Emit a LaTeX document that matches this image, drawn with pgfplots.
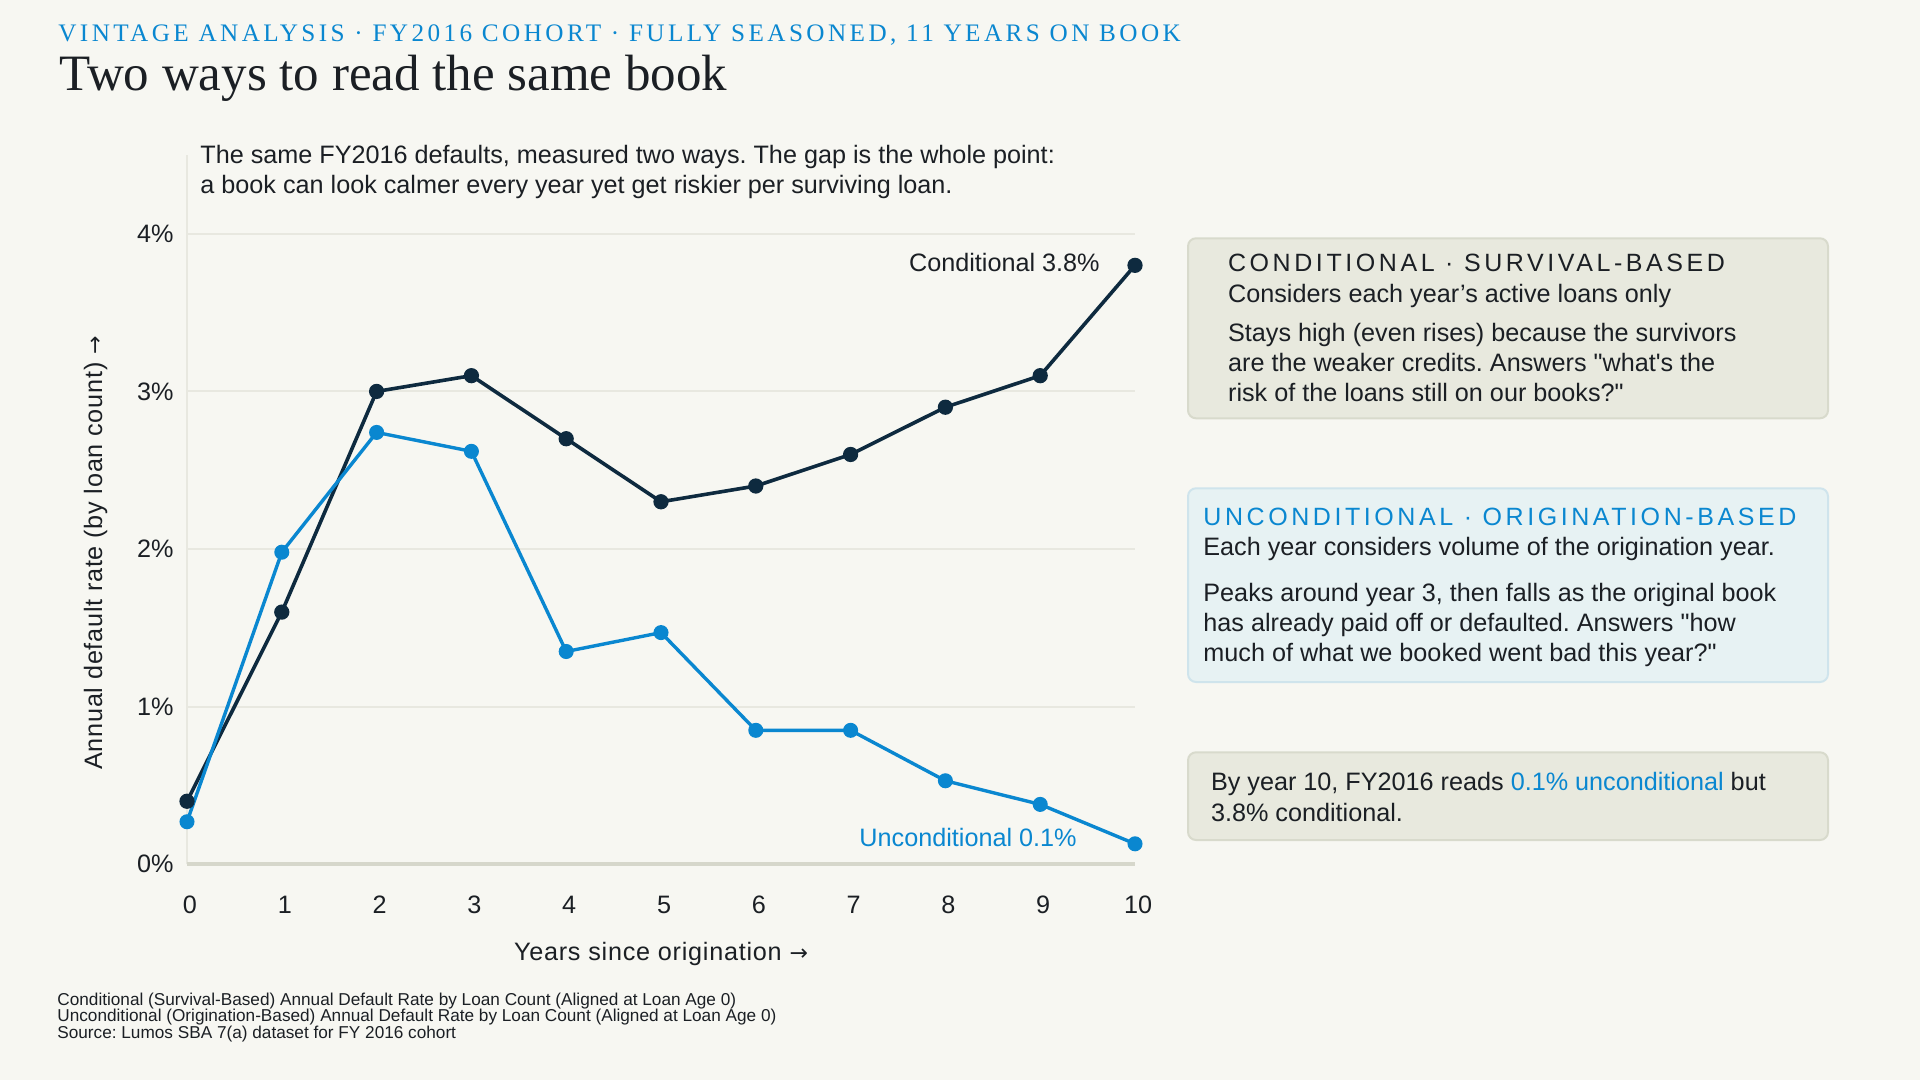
\documentclass[border=0pt]{standalone}
\usepackage{pgfplots}
\pgfplotsset{compat=1.18}
\usepackage{fontspec}
\setmainfont{Liberation Sans}[Ligatures=TeXOff]
\newfontfamily\titleserif{Liberation Serif}
\newfontfamily\kickerserif[LetterSpace=13.6]{Liberation Serif}
\newfontfamily\capsans[LetterSpace=14.3]{Liberation Sans}
\newfontfamily\widesans[LetterSpace=3,Ligatures=TeXOff]{Liberation Sans}
\newfontfamily\arrowfont{DejaVu Sans}
\frenchspacing

\definecolor{bg}{HTML}{F7F7F2}
\definecolor{ink}{HTML}{1B1F24}
\definecolor{navy}{HTML}{0E2A3F}
\definecolor{accent}{HTML}{0A87D0}
\definecolor{gridc}{HTML}{E8E8E0}
\definecolor{baseline}{HTML}{D6D7CB}
\definecolor{boxA}{HTML}{E8E9DE}
\definecolor{boxAline}{HTML}{D8DACC}
\definecolor{boxB}{HTML}{E7F2F3}
\definecolor{boxBline}{HTML}{CFE4EC}

\newcommand{\body}{\fontsize{12.6pt}{15pt}\selectfont}
\newcommand{\arr}{{\arrowfont\fontsize{11pt}{11pt}\selectfont →}}

\begin{document}
\begin{tikzpicture}[x=0.5pt,y=0.5pt]
% canvas 1920 x 1080 units, y measured downward as negative
\fill[bg] (0,0) rectangle (1920,-1080);

% kicker and title
\node[anchor=base west, inner sep=0, text=accent] at (58,-41.7)
  {\kickerserif\fontsize{12.6pt}{12.6pt}\selectfont VINTAGE ANALYSIS · FY2016 COHORT · FULLY SEASONED, 11 YEARS ON BOOK};
\node[anchor=base west, inner sep=0, text=ink] at (59,-90.7)
  {\titleserif\fontsize{25.5pt}{25.5pt}\selectfont Two ways to read the same book};

% chart
\begin{axis}[
  at={(93.5pt,-432.15pt)}, anchor=south west,
  scale only axis, width=474pt, height=354.65pt,
  xmin=0, xmax=10, ymin=0, ymax=4.5,
  clip=false,
  axis line style={draw=none},
  major tick length=0pt,
  xtick={0,1,...,10},
  xticklabels={0,1,2,3,4,5,6,7,8,9,10},
  ytick={0,1,2,3,4},
  yticklabels={0\%,1\%,2\%,3\%,4\%},
  ymajorgrids,
  grid style={draw=gridc, line width=1pt},
  xticklabel style={inner sep=0pt, anchor=north, yshift=-15.5pt, xshift=1.5pt, text=ink, font=\body},
  yticklabel style={inner sep=0pt, anchor=east, xshift=-6.5pt, text=ink, font=\body},
]
% axis lines
\draw[draw=gridc, line width=1.2pt] (axis cs:0,0) -- (axis cs:0,4.5);
\draw[draw=baseline, line width=2pt] (axis cs:0,0) -- (axis cs:10,0);

% conditional (survival-based) rate
\addplot[navy, line width=1.8pt, mark=*, mark size=2.9pt, mark options={fill=navy, draw=navy}]
  coordinates {(0,0.40) (1,1.60) (2,3.00) (3,3.10) (4,2.70) (5,2.30)
               (6,2.40) (7,2.60) (8,2.90) (9,3.10) (10,3.80)};
% unconditional (origination-based) rate
\addplot[accent, line width=1.7pt, mark=*, mark size=2.9pt, mark options={fill=accent, draw=accent}]
  coordinates {(0,0.27) (1,1.98) (2,2.74) (3,2.62) (4,1.35) (5,1.47)
               (6,0.85) (7,0.85) (8,0.53) (9,0.38) (10,0.13)};
\end{axis}

% axis titles
\node[anchor=base, inner sep=0, text=ink] at (661,-960) {\widesans\fontsize{12.6pt}{15pt}\selectfont Years since origination \arr};
\node[rotate=90, anchor=center, inner sep=0, text=ink] at (95.5,-553) {\widesans\fontsize{12.6pt}{15pt}\selectfont Annual default rate (by loan count) \arr};

% lead-in text inside the plot
\node[anchor=base west, inner sep=0, text=ink] at (200,-163.3) {\body The same FY2016 defaults, measured two ways. The gap is the whole point:};
\node[anchor=base west, inner sep=0, text=ink] at (200,-193.3) {\body a book can look calmer every year yet get riskier per surviving loan.};

% end labels
\node[anchor=base east, inner sep=0, text=ink] at (1100,-271.7) {\body Conditional 3.8\%};
\node[anchor=base east, inner sep=0, text=accent] at (1077,-846.7) {\body Unconditional 0.1\%};

% conditional card
\draw[fill=boxA, draw=boxAline, line width=1pt, rounded corners=4pt] (1188,-238.3) rectangle (1828,-418.3);
\node[anchor=base west, inner sep=0, text=ink] at (1227.7,-271.7) {\capsans\fontsize{12.5pt}{12.5pt}\selectfont CONDITIONAL · SURVIVAL-BASED};
\node[anchor=base west, inner sep=0, text=ink] at (1227.7,-302.7) {\body Considers each year’s active loans only};
\node[anchor=base west, inner sep=0, text=ink] at (1227.7,-341.7) {\body Stays high (even rises) because the survivors};
\node[anchor=base west, inner sep=0, text=ink] at (1227.7,-371.7) {\body are the weaker credits. Answers "what's the};
\node[anchor=base west, inner sep=0, text=ink] at (1227.7,-401.7) {\body risk of the loans still on our books?"};

% unconditional card
\draw[fill=boxB, draw=boxBline, line width=1pt, rounded corners=4pt] (1188,-488.3) rectangle (1828,-682);
\node[anchor=base west, inner sep=0, text=accent] at (1203,-525) {\capsans\fontsize{12.5pt}{12.5pt}\selectfont UNCONDITIONAL · ORIGINATION-BASED};
\node[anchor=base west, inner sep=0, text=ink] at (1203,-555) {\body Each year considers volume of the origination year.};
\node[anchor=base west, inner sep=0, text=ink] at (1203,-601.7) {\body Peaks around year 3, then falls as the original book};
\node[anchor=base west, inner sep=0, text=ink] at (1203,-631.7) {\body has already paid off or defaulted. Answers "how};
\node[anchor=base west, inner sep=0, text=ink] at (1203,-661.7) {\body much of what we booked went bad this year?"};

% takeaway card
\draw[fill=boxA, draw=boxAline, line width=1pt, rounded corners=4pt] (1188,-752.3) rectangle (1828,-840);
\node[anchor=base west, inner sep=0, text=ink] at (1210.6,-790) {\body By year 10, FY2016 reads \textcolor{accent}{0.1\% unconditional} but};
\node[anchor=base west, inner sep=0, text=ink] at (1210.6,-821.7) {\body 3.8\% conditional.};

% notes
\node[anchor=base west, inner sep=0, text=ink] at (57,-1005) {\fontsize{8.6pt}{8.6pt}\selectfont Conditional (Survival-Based) Annual Default Rate by Loan Count (Aligned at Loan Age 0)};
\node[anchor=base west, inner sep=0, text=ink] at (57,-1021.7) {\fontsize{8.6pt}{8.6pt}\selectfont Unconditional (Origination-Based) Annual Default Rate by Loan Count (Aligned at Loan Age 0)};
\node[anchor=base west, inner sep=0, text=ink] at (57,-1038) {\fontsize{8.6pt}{8.6pt}\selectfont Source: Lumos SBA 7(a) dataset for FY 2016 cohort};
\end{tikzpicture}
\end{document}
